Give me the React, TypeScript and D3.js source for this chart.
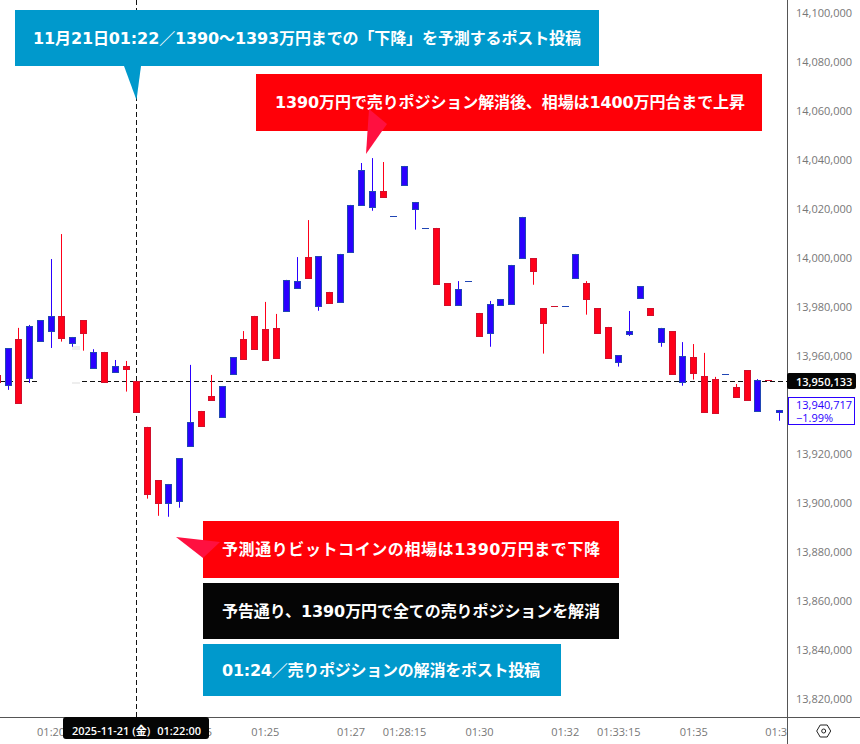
import React from "react";
import * as d3 from "d3";

const W = 860, H = 744, AX = 787, AY = 717;
const priceTicks = [14100000, 14080000, 14060000, 14040000, 14020000, 14000000, 13980000, 13960000, 13920000, 13900000, 13880000, 13860000, 13840000, 13820000];
const timeTicks: [string, string][] = [
  ["01:20:00", "01:20"], ["01:23:15", "01:23:15"], ["01:25:00", "01:25"], ["01:27:00", "01:27"], ["01:28:15", "01:28:15"],
  ["01:30:00", "01:30"], ["01:32:00", "01:32"], ["01:33:15", "01:33:15"], ["01:35:00", "01:35"], ["01:37:00", "01:37"],
];
// thousand yen; first candle opens at 01:18:45, one candle every 15 s
const opens = [13952.6,13948.2,13967.3,13951.1,13966.2,13970.2,13976.7,13965.4,13975,13955.1,13962,13953.5,13956.2,13950,13931.4,13909.7,13900,13900.9,13923.3,13937.9,13944,13935.1,13952.7,13967.3,13976.7,13971.4,13971.8,13978.4,13987.8,14000.7,13980.5,13986.5,13982.1,14002.5,14021.7,14020.9,14027.7,14017.4,14029.8,14020,14012.5,14012.6,13990.1,13980.9,13990.8,13977.9,13969.4,13980.9,13981.3,14000,14000.3,13979.9,13980.6,13980.5,13991.9,13990.1,13979.9,13972.2,13957.6,13969,13983.7,13979.9,13965.8,13970.5,13949.4,13959.9,13952.2,13950.9,13952.8,13947.7,13954.6,13937.6,13950.5,13937.2];
const highs = [13952.6,13963.5,13971.8,13973,13975,13999.9,14010.1,13968.1,13975,13963.1,13962,13958.7,13958.3,13950,13931.4,13909.7,13908.1,13918.6,13956.7,13937.9,13952.6,13948.1,13959.9,13970.5,13976.7,13982.4,13977.5,13991.4,14000.7,14015.8,14001.1,13986.5,14002,14022,14039.1,14041.1,14039.5,14017.4,14037.9,14023.2,14012.5,14012.6,13990.1,13990.9,13990.8,13977.9,13982.8,13983.6,13997.5,14017.1,14000.3,13979.9,13980.6,13980.6,14002,13990.9,13979.9,13972.2,13960.7,13978.7,13988.9,13979.9,13971.8,13970.5,13966,13965.2,13961.6,13951.8,13952.9,13948.9,13954.6,13950.9,13950.5,13938.3];
const lows = [13949.4,13946.5,13940.9,13949.3,13966.2,13963.6,13966.2,13964.1,13962.5,13955.1,13949.4,13953.5,13945.8,13937.2,13902.1,13895.1,13894.7,13898.4,13923.3,13931.5,13942.1,13935.1,13952.7,13958.8,13962.9,13958.4,13959.2,13978.4,13987.8,13991.9,13978.8,13981.7,13982.1,14002.5,14021.7,14019.6,14024.9,14017.4,14029.8,14011.9,14012.5,13989.4,13980.9,13980.9,13990.8,13968.2,13964.1,13980.9,13981.3,14000,13989.4,13961.3,13980.5,13980.5,13991.9,13977.2,13969.4,13959.2,13956,13968.5,13983.7,13976.8,13964.1,13952.7,13948.2,13950.7,13937.2,13936.8,13952.8,13943.3,13942.1,13937.6,13950.4,13933.9];
const closes = [13949.4,13963.5,13940.9,13972.6,13975,13976.7,13967.4,13968.1,13969.4,13962,13949.4,13956.2,13954.7,13937.2,13903.7,13900,13908.1,13918.6,13933.4,13931.5,13942.1,13948.1,13959.9,13958.8,13962.9,13958.4,13959.2,13991.4,13990.9,13991.9,14001.1,13981.7,14002,14022,14036.2,14027.7,14024.9,14017.4,14037.9,14023.2,14012.5,13989.4,13980.9,13987.7,13990.8,13968.2,13981.6,13983.6,13997.5,14017.1,13994.7,13973.5,13980.5,13980.6,14002,13983.3,13969.4,13959.2,13960.7,13970.5,13988.9,13976.8,13971.8,13952.7,13960.3,13953.1,13937.2,13936.8,13952.9,13943.3,13942.1,13950.5,13950.4,13938.3];

const boxes = [
  { x: 15, y: 10, w: 584, h: 56, fill: "#0099cc", text: "11月21日01:22／1390～1393万円までの「下降」を予測するポスト投稿", tx: 33, tw: 548 },
  { x: 256, y: 74, w: 506, h: 57, fill: "#ff0008", text: "1390万円で売りポジション解消後、相場は1400万円台まで上昇", tx: 275, tw: 470 },
  { x: 203, y: 521, w: 416, h: 57, fill: "#ff0008", text: "予測通りビットコインの相場は1390万円まで下降", tx: 222, tw: 378 },
  { x: 203, y: 583, w: 416, h: 56, fill: "#050505", text: "予告通り、1390万円で全ての売りポジションを解消", tx: 222, tw: 378 },
  { x: 203, y: 644, w: 358, h: 52, fill: "#0099cc", text: "01:24／売りポジションの解消をポスト投稿", tx: 222, tw: 318 },
];
const UI = "'Open Sans', 'Noto Sans CJK JP', sans-serif";
const JP = "'DejaVu Sans', 'Noto Sans CJK JP', sans-serif";
const parse = (s: string) => new Date(`2025-11-21T${s}`);

export default function App() {
  const y = d3.scaleLinear().domain([14000, 13820]).range([258.8, 699.8]);
  const x = d3.scaleTime().domain([parse("01:19:00"), parse("01:37:00")]).range([8.25, 779.37]);
  const fmt = d3.format(",");
  const cross = Math.round(y(13950.133)) + 0.5;
  const vx = Math.floor(x(parse("01:22:00"))) + 0.5;
  const t0 = parse("01:18:45").getTime();
  return (
    <svg width={W} height={H} style={{ position: "fixed", left: 0, top: 0, background: "#fff" }} fontFamily={UI}>
      <defs><clipPath id="plot"><rect x={0} y={0} width={AX} height={AY} /></clipPath>
        <clipPath id="tl"><rect x={0} y={AY} width={AX} height={H - AY} /></clipPath></defs>
      <rect x={72} y={346} width={8} height={4} fill="#eeeeee" />
      <rect x={72} y={382} width={8} height={2} fill="#eeeeee" />
      <g clipPath="url(#plot)">
        <line x1={vx} x2={vx} y1={0} y2={AY} stroke="#111" strokeDasharray="5 3" />
        <line x1={0} x2={38} y1={cross} y2={cross} stroke="#111" strokeDasharray="5 3" />
        <line x1={82} x2={AX} y1={cross} y2={cross} stroke="#111" strokeDasharray="5 3" />
        {opens.map((o, i) => {
          const c = closes[i];
          const up = c >= o;
          const cx = Math.floor(x(new Date(t0 + i * 15000))) + 0.5;
          const top = Math.round(y(Math.max(o, c)));
          const bot = Math.round(y(Math.min(o, c)));
          const fill = up ? "#2a00ff" : "#ff0019";
          const edge = up ? "#2046b4" : "#d0102c";
          return (
            <g key={i}>
              <line x1={cx} x2={cx} y1={y(highs[i])} y2={y(lows[i])} stroke={fill} strokeWidth={1} />
              {bot - top < 2
                ? <line x1={cx - 3.5} x2={cx + 3.5} y1={top + 0.5} y2={top + 0.5} stroke={edge} />
                : <rect x={cx - 3} y={top + 0.5} width={6} height={bot - top - 1} fill={fill} stroke={edge} />}
            </g>
          );
        })}
      </g>
      {boxes.map((b) => (
        <g key={b.text}>
          <rect x={b.x} y={b.y} width={b.w} height={b.h} fill={b.fill} />
          <text x={b.tx} y={b.y + b.h / 2} dominantBaseline="central" fill="#fff" fontFamily={JP} fontWeight={700} fontSize={16} textLength={b.tw} lengthAdjust="spacing">{b.text}</text>
        </g>
      ))}
      <polygon points="124,66 141,66 136.5,100" fill="#0099cc" />
      <polygon points="369,109 387,124 366,154" fill="#ff1040" />
      <polygon points="176,537 220,542 203,558" fill="#ff1040" />
      <line x1={AX + 0.5} x2={AX + 0.5} y1={0} y2={H} stroke="#555" />
      <line x1={0} x2={W} y1={AY + 0.5} y2={AY + 0.5} stroke="#555" />
      {priceTicks.map((p) => (
        <text key={p} x={796} y={y(p / 1000) - 1} dominantBaseline="central" fontSize={11} fill="#777">{fmt(p)}</text>
      ))}
      <g clipPath="url(#tl)">
        {timeTicks.map(([t, l]) => (
          <text key={t} x={x(parse(t))} y={731} textAnchor="middle" dominantBaseline="central" fontSize={11} fill="#777">{l}</text>
        ))}
      </g>
      <rect x={63} y={717} width={146} height={22} rx={3} fill="#050505" />
      <text x={72} y={730} dominantBaseline="central" fontSize={11} fontWeight={600} fill="#fff">2025-11-21 (金)</text>
      <text x={201} y={730} textAnchor="end" dominantBaseline="central" fontSize={11} fontWeight={600} fill="#fff">01:22:00</text>
      <rect x={787} y={373} width={69} height={16} rx={2} fill="#050505" />
      <text x={796} y={381} dominantBaseline="central" fontSize={11} fontWeight={600} fill="#fff">13,950,133</text>
      <rect x={788.5} y={397.5} width={66} height={27} fill="#fff" stroke="#2a00ff" />
      <text x={796} y={404} dominantBaseline="central" fontSize={11} fill="#2a00ff">13,940,717</text>
      <text x={796} y={417} dominantBaseline="central" fontSize={11} fill="#2a00ff">−1.99%</text>
      <g transform="translate(823.7,731)" fill="none" stroke="#222">
        <polygon points="-7,0 -3.5,-6 3.5,-6 7,0 3.5,6 -3.5,6" />
        <circle r={2} />
      </g>
    </svg>
  );
}
